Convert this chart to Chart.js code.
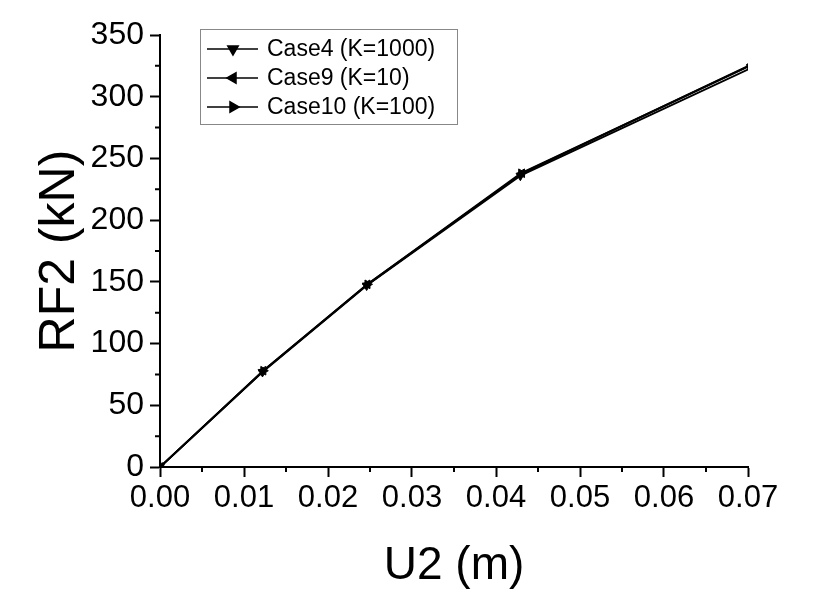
<!DOCTYPE html>
<html>
<head>
<meta charset="utf-8">
<script src="https://cdn.jsdelivr.net/npm/chart.js@4/dist/chart.umd.min.js"></script>
<style>
  html, body { margin: 0; padding: 0; background: #fff; }
  canvas { display: block; }
</style>
</head>
<body>
<canvas id="rfChart" width="821" height="598"></canvas>
<script>
// displacement U2 (m) and reaction RF2 (kN)
var case4U = [0, 0.0122, 0.0246, 0.0429, 0.0703];
var case4RF = [0, 77, 147, 236, 323];
var case9U = [0, 0.0123, 0.0247, 0.0431, 0.0704];
var case9RF = [0, 78, 148, 238, 326];
var case10U = [0, 0.0123, 0.0247, 0.0430, 0.0705];
var case10RF = [0, 78, 148, 238, 326];

var seriesNames = ['Case4 (K=1000)', 'Case9 (K=10)', 'Case10 (K=100)'];
var xTicks = [0, 0.01, 0.02, 0.03, 0.04, 0.05, 0.06, 0.07];
var yTicks = [0, 50, 100, 150, 200, 250, 300, 350];

var FONT = "'Liberation Sans', Arial, sans-serif";

function pts(xs, ys) {
	return xs.map(function (x, i) { return { x: x, y: ys[i] }; });
}

function mkSet(label, xs, ys, rot) {
	return {
		label: label,
		data: pts(xs, ys),
		showLine: true,
		borderColor: '#000',
		backgroundColor: '#000',
		borderWidth: 2,
		pointStyle: 'triangle',
		rotation: rot,
		pointRadius: 5,
		pointBorderWidth: 1,
	};
}

// minor ticks halfway between the labelled ones
var minorTicks = {
	id: 'minorTicks',
	afterDraw: function (chart) {
		var ctx = chart.ctx;
		var xs = chart.scales.x, ys = chart.scales.y;
		var a = chart.chartArea;
		ctx.save();
		ctx.strokeStyle = '#000';
		ctx.lineWidth = 2;
		ctx.beginPath();
		for (var i = 0; i < xTicks.length - 1; i++) {
			var px = xs.getPixelForValue((xTicks[i] + xTicks[i + 1]) / 2);
			ctx.moveTo(px, a.bottom);
			ctx.lineTo(px, a.bottom + 5);
		}
		for (var j = 0; j < yTicks.length - 1; j++) {
			var py = ys.getPixelForValue((yTicks[j] + yTicks[j + 1]) / 2);
			ctx.moveTo(a.left, py);
			ctx.lineTo(a.left - 5, py);
		}
		ctx.stroke();
		ctx.restore();
	},
};

// boxed legend inside the plot, line-marker-line samples
var boxLegend = {
	id: 'boxLegend',
	afterDraw: function (chart) {
		var ctx = chart.ctx;
		var a = chart.chartArea;
		var left = a.left + 40, top = a.top - 6;
		ctx.save();
		ctx.strokeStyle = '#888';
		ctx.lineWidth = 1;
		ctx.strokeRect(left + 0.5, top + 0.5, 257, 95);
		ctx.font = '23px ' + FONT;
		ctx.textBaseline = 'middle';
		ctx.fillStyle = '#000';
		chart.data.datasets.forEach(function (ds, i) {
			var y = top + 20 + i * 29;
			ctx.strokeStyle = '#000';
			ctx.lineWidth = 1.5;
			ctx.beginPath();
			ctx.moveTo(left + 7, y);
			ctx.lineTo(left + 58, y);
			ctx.stroke();
			Chart.helpers.drawPoint(ctx, {
				pointStyle: 'triangle',
				rotation: ds.rotation,
				radius: 6,
				borderWidth: 1,
			}, left + 33, y);
			ctx.fillStyle = '#000';
			ctx.fill();
			ctx.fillText(ds.label, left + 67, y + 1);
		});
		ctx.restore();
	},
};

new Chart(document.getElementById('rfChart'), {
	type: 'scatter',
	data: {
		datasets: [
			mkSet(seriesNames[0], case4U, case4RF, 180),
			mkSet(seriesNames[1], case9U, case9RF, -90),
			mkSet(seriesNames[2], case10U, case10RF, 90),
		],
	},
	options: {
		responsive: false,
		animation: false,
		layout: { padding: { top: 35, right: 73, left: 0, bottom: 0 } },
		plugins: {
			legend: { display: false },
			tooltip: { enabled: false },
		},
		scales: {
			x: {
				type: 'linear',
				min: 0,
				max: 0.07,
				afterBuildTicks: function (s) { s.ticks = xTicks.map(function (v) { return { value: v }; }); },
				afterFit: function (s) { s.height = 131; },
				border: { color: '#000', width: 2 },
				grid: { drawOnChartArea: false, tickLength: 10, tickColor: '#000', tickWidth: 2 },
				ticks: {
					color: '#000',
					padding: 3,
					maxRotation: 0,
					font: { family: FONT, size: 31 },
					callback: function (v) { return v.toFixed(2); },
				},
				title: {
					display: true,
					text: 'U2 (m)',
					color: '#000',
					padding: { top: 4 },
					font: { family: FONT, size: 46 },
				},
			},
			y: {
				min: 0,
				max: 350,
				afterBuildTicks: function (s) { s.ticks = yTicks.map(function (v) { return { value: v }; }); },
				afterFit: function (s) { s.width = 160; },
				border: { color: '#000', width: 2 },
				grid: { drawOnChartArea: false, tickLength: 10, tickColor: '#000', tickWidth: 2 },
				ticks: {
					color: '#000',
					padding: 6,
					font: { family: FONT, size: 32 },
				},
				title: {
					display: true,
					text: 'RF2 (kN)',
					color: '#000',
					padding: { top: 30, bottom: 0 },
					font: { family: FONT, size: 50 },
				},
			},
		},
	},
	plugins: [minorTicks, boxLegend],
});
</script>
</body>
</html>
